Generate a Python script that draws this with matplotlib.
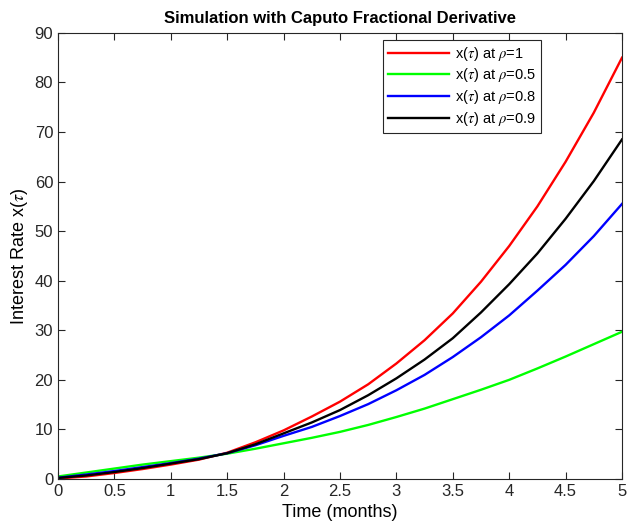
import numpy as np
import matplotlib
matplotlib.use('Agg')
import matplotlib.pyplot as plt

plt.rcParams['font.family'] = ['Liberation Sans', 'DejaVu Sans']
plt.rcParams['mathtext.fontset'] = 'stix'

# time points (months)
t = [0, 0.25, 0.5, 0.75, 1, 1.25, 1.5, 1.75, 2, 2.25, 2.5,
     2.75, 3, 3.25, 3.5, 3.75, 4, 4.25, 4.5, 4.75, 5]

# values
x_rho1 = [0.1, 0.5, 1.2, 2.0, 2.9, 3.9, 5.3, 7.4, 9.8, 12.6, 15.6,
          19.1, 23.3, 28.0, 33.4, 39.8, 47.0, 55.0, 64.0, 73.9, 85.0]
x_rho05 = [0.5, 1.3, 2.1, 2.9, 3.6, 4.3, 5.1, 6.1, 7.2, 8.3, 9.5,
           10.9, 12.5, 14.2, 16.1, 18.0, 20.0, 22.3, 24.7, 27.2, 29.7]
x_rho08 = [0.25, 0.9, 1.6, 2.4, 3.2, 4.1, 5.2, 6.8, 8.7, 10.5, 12.7,
           15.1, 17.9, 21.0, 24.6, 28.6, 33.0, 38.0, 43.2, 49.0, 55.5]
x_rho09 = [0.2, 0.7, 1.4, 2.2, 3.1, 4.0, 5.2, 7.0, 9.2, 11.4, 13.9,
           16.9, 20.3, 24.1, 28.4, 33.6, 39.3, 45.5, 52.5, 60.1, 68.5]

series = [
    (x_rho1, '#ff0000', r'x($\tau$) at $\rho$=1'),
    (x_rho05, '#00ff00', r'x($\tau$) at $\rho$=0.5'),
    (x_rho08, '#0000ff', r'x($\tau$) at $\rho$=0.8'),
    (x_rho09, '#000000', r'x($\tau$) at $\rho$=0.9'),
]

fig = plt.figure(figsize=(6.27, 5.31), dpi=100)
ax = fig.add_axes([0.0925, 0.098, 0.8995, 0.840])

for vals, col, lab in series:
    ax.plot(t, vals, color=col, lw=1.7, label=lab, solid_joinstyle='round')

ax.set_xlim(0, 5)
ax.set_ylim(0, 90)
ax.set_xticks(np.arange(0, 5.01, 0.5))
ax.set_xticklabels(['0', '0.5', '1', '1.5', '2', '2.5', '3', '3.5', '4', '4.5', '5'])
ax.set_yticks(np.arange(0, 91, 10))
ax.tick_params(direction='in', top=True, right=True, labelsize=12,
               colors='#262626', length=5, width=0.8)
for s in ax.spines.values():
    s.set_color('#262626')
    s.set_linewidth(0.8)

ax.set_title('Simulation with Caputo Fractional Derivative', fontsize=12,
             fontweight='bold', pad=7)
ax.set_xlabel('Time (months)', fontsize=13, labelpad=4)
ax.set_ylabel(r'Interest Rate x($\tau$)', fontsize=13, labelpad=3)

leg = ax.legend(loc='upper right', bbox_to_anchor=(0.857, 0.985), borderaxespad=0,
                fontsize=10.5, handlelength=4.2, fancybox=False, framealpha=1,
                edgecolor='#262626', labelspacing=0.25, borderpad=0.35,
                handletextpad=0.4)
leg.get_frame().set_linewidth(0.8)

fig.savefig('out.png', dpi=100)
